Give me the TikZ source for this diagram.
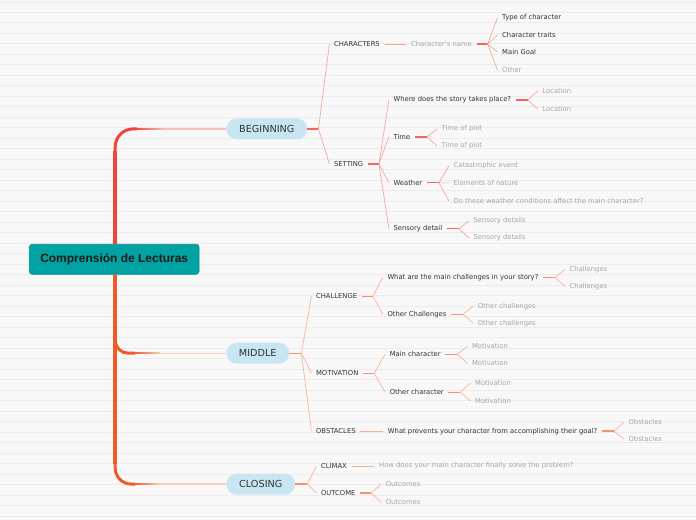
\documentclass[tikz,border=0pt]{standalone}
\usepackage{fontspec}
\setmainfont{DejaVu Sans}
\newfontfamily\titlefont{Liberation Sans}

\definecolor{bgpaper}{HTML}{F8F8F8}
\definecolor{paperrule}{HTML}{ECECEC}
\definecolor{rootteal}{HTML}{00A3A1}
\definecolor{rootedge}{HTML}{0A8C8A}
\definecolor{pillblue}{HTML}{C7E6F1}
\definecolor{trunkred}{HTML}{F0463A}
\definecolor{trunkorange}{HTML}{F05A28}
\definecolor{linkpink}{HTML}{F7C2BB}
\definecolor{linkpeach}{HTML}{F9CDB9}
\definecolor{fanpink}{HTML}{F5A39C}
\definecolor{fanpeach}{HTML}{F8B196}
\definecolor{stubpink}{HTML}{F0685B}
\definecolor{stubpeach}{HTML}{F5936D}
\definecolor{inkdark}{HTML}{333333}
\definecolor{inkgrey}{HTML}{A6A6A6}

\newcommand*{\leafsize}{\fontsize{6.8}{8}\selectfont}

\begin{document}
\begin{tikzpicture}
[
	x=1pt,y=-1pt,
	rootbox/.style={rectangle,rounded corners=3pt,draw=rootedge,fill=rootteal,line width=0.6pt,minimum width=170pt,minimum height=30pt,text=black!90,font=\titlefont\bfseries\fontsize{12}{14}\selectfont},
	pill/.style={rectangle,rounded corners=10.5pt,fill=pillblue,anchor=west,minimum height=21pt,inner sep=0pt,text=inkdark,font=\fontsize{9.7}{11}\selectfont},
	leaf/.style={anchor=west,inner xsep=4.5pt,inner ysep=1pt,text=inkdark,font=\leafsize},
	greyleaf/.style={leaf,text=inkgrey},
	trunk/.style={line width=4.2pt},
	curl/.style={line width=3pt},
	linkB/.style={draw=linkpink,line width=1.3pt},
	linkC/.style={draw=linkpeach,line width=1.3pt},
	fanB/.style={draw=fanpink,line width=0.65pt},
	fanC/.style={draw=fanpeach,line width=0.65pt},
	stubB/.style={draw=stubpink,line width=1.3pt},
	stubC/.style={draw=stubpeach,line width=1.3pt}
]

	% paper
	\fill[bgpaper] (0,0) rectangle (696,520);
	\foreach \k in {0,...,49}
		\draw[paperrule,line width=0.6pt] (0,{1.8+10.5*\k}) -- (696,{1.8+10.5*\k});
	\useasboundingbox (0,0) rectangle (696,520);

	% root and main topics
	\node[rootbox] (root) at (114,259.5) {Comprensión de Lecturas};
	\node[pill,minimum width=81pt] (beg) at (226,129) {BEGINNING};
	\node[pill,minimum width=63pt] (mid) at (226,353.5) {MIDDLE};
	\node[pill,minimum width=69pt] (clo) at (226,484.5) {CLOSING};

	% trunk
	\coordinate (tkbeg) at (115,129);
	\coordinate (tkmid) at (115,353.5);
	\coordinate (tkclo) at (115,484.5);
	\draw[trunk,trunkred] (root.north -| tkbeg) -- ([shift={(0,22)}]tkbeg);
	\draw[trunk,trunkorange] (root.south -| tkclo) -- ([shift={(0,-20)}]tkclo);
	\draw[curl,trunkred,rounded corners=18pt] ([shift={(0,24)}]tkbeg) |- ([xshift=22pt]tkbeg);
	\draw[curl,trunkorange,rounded corners=13pt] ([shift={(0,-16)}]tkmid) |- ([xshift=20pt]tkmid);
	\draw[curl,trunkorange,rounded corners=16pt] ([shift={(0,-21)}]tkclo) |- ([xshift=20pt]tkclo);

	\draw[linkB] ([xshift=21pt]tkbeg) -- (beg.west);
	\draw[linkC] ([xshift=19pt]tkmid) -- (mid.west);
	\draw[linkC] ([xshift=19pt]tkclo) -- (clo.west);
	\shade[left color=trunkred,right color=linkpink] ([shift={(20,-0.75)}]tkbeg) rectangle ([shift={(50,0.75)}]tkbeg);
	\shade[left color=trunkorange,right color=linkpeach] ([shift={(18,-0.75)}]tkmid) rectangle ([shift={(45,0.75)}]tkmid);
	\shade[left color=trunkorange,right color=linkpeach] ([shift={(18,-0.75)}]tkclo) rectangle ([shift={(45,0.75)}]tkclo);

	% BEGINNING
	\coordinate (begfan) at ([xshift=11pt]beg.east);
	\draw[stubB] (beg.east) -- (begfan);
	\node[leaf] (chars) at ([shift={(11,-85)}]begfan) {CHARACTERS};
	\node[leaf] (setting) at ([shift={(11,35)}]begfan) {SETTING};
	\draw[fanB] (begfan) -- (chars.west) (begfan) -- (setting.west);

	% characters
	\node[greyleaf] (charname) at ([xshift=22pt]chars.east) {Character's name};
	\draw[fanB] (chars.east) -- (charname.west);
	\coordinate (charfan) at ([xshift=11pt]charname.east);
	\draw[stubB] (charname.east) -- (charfan);
	\node[leaf] (typechar) at ([shift={(10,-26)}]charfan) {Type of character};
	\node[leaf] (traits) at ([shift={(10,-9)}]charfan) {Character traits};
	\node[leaf] (goal) at ([shift={(10,8)}]charfan) {Main Goal};
	\node[greyleaf] (other) at ([shift={(10,26)}]charfan) {Other};
	\draw[fanB] (charfan) -- (typechar.west) (charfan) -- (traits.west)
		(charfan) -- (goal.west) (charfan) -- (other.west);

	% setting
	\coordinate (setfan) at ([xshift=11pt]setting.east);
	\draw[stubB] (setting.east) -- (setfan);
	\node[leaf] (where) at ([shift={(10,-64)}]setfan) {Where does the story takes place?};
	\node[leaf] (time) at ([shift={(10,-27)}]setfan) {Time};
	\node[leaf] (weather) at ([shift={(10,19)}]setfan) {Weather};
	\node[leaf] (sensory) at ([shift={(10,65)}]setfan) {Sensory detail};
	\draw[fanB] (setfan) -- (where.west) (setfan) -- (time.west)
		(setfan) -- (weather.west) (setfan) -- (sensory.west);

	\coordinate (wherefan) at ([xshift=12pt]where.east);
	\draw[stubB] (where.east) -- (wherefan);
	\node[greyleaf] (loca) at ([shift={(10,-9)}]wherefan) {Location};
	\node[greyleaf] (locb) at ([shift={(10,9)}]wherefan) {Location};
	\draw[fanB] (wherefan) -- (loca.west) (wherefan) -- (locb.west);

	\coordinate (timefan) at ([xshift=12pt]time.east);
	\draw[stubB] (time.east) -- (timefan);
	\node[greyleaf] (plota) at ([shift={(10,-8)}]timefan) {Time of plot};
	\node[greyleaf] (plotb) at ([shift={(10,9)}]timefan) {Time of plot};
	\draw[fanB] (timefan) -- (plota.west) (timefan) -- (plotb.west);

	\coordinate (weathfan) at ([xshift=12pt]weather.east);
	\draw[stubB] (weather.east) -- (weathfan);
	\node[greyleaf] (catast) at ([shift={(10,-17)}]weathfan) {Catastrophic event};
	\node[greyleaf] (nature) at ([shift={(10,0)}]weathfan) {Elements of nature};
	\node[greyleaf] (affect) at ([shift={(10,18)}]weathfan) {Do these weather conditions affect the main character?};
	\draw[fanB] (weathfan) -- (catast.west) (weathfan) -- (nature.west) (weathfan) -- (affect.west);

	\coordinate (sensfan) at ([xshift=12pt]sensory.east);
	\draw[stubB] (sensory.east) -- (sensfan);
	\node[greyleaf] (sensa) at ([shift={(10,-8)}]sensfan) {Sensory details};
	\node[greyleaf] (sensb) at ([shift={(10,9)}]sensfan) {Sensory details};
	\draw[fanB] (sensfan) -- (sensa.west) (sensfan) -- (sensb.west);

	% MIDDLE
	\coordinate (midfan) at ([xshift=12pt]mid.east);
	\draw[stubC] (mid.east) -- (midfan);
	\node[leaf] (chall) at ([shift={(10,-57)}]midfan) {CHALLENGE};
	\node[leaf] (motiv) at ([shift={(10,20)}]midfan) {MOTIVATION};
	\node[leaf] (obst) at ([shift={(10,78)}]midfan) {OBSTACLES};
	\draw[fanC] (midfan) -- (chall.west) (midfan) -- (motiv.west) (midfan) -- (obst.west);

	% challenge
	\coordinate (chalfan) at ([xshift=11pt]chall.east);
	\draw[stubC] (chall.east) -- (chalfan);
	\node[leaf] (mainchal) at ([shift={(10,-19)}]chalfan) {What are the main challenges in your story?};
	\node[leaf] (othchal) at ([shift={(10,18)}]chalfan) {Other Challenges};
	\draw[fanC] (chalfan) -- (mainchal.west) (chalfan) -- (othchal.west);

	\coordinate (mainchalfan) at ([xshift=12pt]mainchal.east);
	\draw[stubC] (mainchal.east) -- (mainchalfan);
	\node[greyleaf] (chala) at ([shift={(10,-8)}]mainchalfan) {Challenges};
	\node[greyleaf] (chalb) at ([shift={(10,9)}]mainchalfan) {Challenges};
	\draw[fanC] (mainchalfan) -- (chala.west) (mainchalfan) -- (chalb.west);

	\coordinate (othchalfan) at ([xshift=12pt]othchal.east);
	\draw[stubC] (othchal.east) -- (othchalfan);
	\node[greyleaf] (otha) at ([shift={(10,-8)}]othchalfan) {Other challenges};
	\node[greyleaf] (othb) at ([shift={(10,9)}]othchalfan) {Other challenges};
	\draw[fanC] (othchalfan) -- (otha.west) (othchalfan) -- (othb.west);

	% motivation
	\coordinate (motfan) at ([xshift=11pt]motiv.east);
	\draw[stubC] (motiv.east) -- (motfan);
	\node[leaf] (mainchar) at ([shift={(11,-19)}]motfan) {Main character};
	\node[leaf] (othchar) at ([shift={(11,19)}]motfan) {Other character};
	\draw[fanC] (motfan) -- (mainchar.west) (motfan) -- (othchar.west);

	\coordinate (maincharfan) at ([xshift=12pt]mainchar.east);
	\draw[stubC] (mainchar.east) -- (maincharfan);
	\node[greyleaf] (mota) at ([shift={(10,-8)}]maincharfan) {Motivation};
	\node[greyleaf] (motb) at ([shift={(10,9)}]maincharfan) {Motivation};
	\draw[fanC] (maincharfan) -- (mota.west) (maincharfan) -- (motb.west);

	\coordinate (othcharfan) at ([xshift=12pt]othchar.east);
	\draw[stubC] (othchar.east) -- (othcharfan);
	\node[greyleaf] (motc) at ([shift={(10,-9)}]othcharfan) {Motivation};
	\node[greyleaf] (motd) at ([shift={(10,9)}]othcharfan) {Motivation};
	\draw[fanC] (othcharfan) -- (motc.west) (othcharfan) -- (motd.west);

	% obstacles
	\node[leaf] (prevent) at ([xshift=23pt]obst.east) {What prevents your character from accomplishing their goal?};
	\draw[fanC] (obst.east) -- (prevent.west);
	\coordinate (prevfan) at ([xshift=12pt]prevent.east);
	\draw[stubC] (prevent.east) -- (prevfan);
	\node[greyleaf] (obsta) at ([shift={(10,-9)}]prevfan) {Obstacles};
	\node[greyleaf] (obstb) at ([shift={(10,8)}]prevfan) {Obstacles};
	\draw[fanC] (prevfan) -- (obsta.west) (prevfan) -- (obstb.west);

	% CLOSING
	\coordinate (clofan) at ([xshift=12pt]clo.east);
	\draw[stubC] (clo.east) -- (clofan);
	\node[leaf] (climax) at ([shift={(9,-18)}]clofan) {CLIMAX};
	\node[leaf] (outcome) at ([shift={(9,9)}]clofan) {OUTCOME};
	\draw[fanC] (clofan) -- (climax.west) (clofan) -- (outcome.west);

	\node[greyleaf] (solve) at ([xshift=23pt]climax.east) {How does your main character finally solve the problem?};
	\draw[fanC] (climax.east) -- (solve.west);

	\coordinate (outfan) at ([xshift=11pt]outcome.east);
	\draw[stubC] (outcome.east) -- (outfan);
	\node[greyleaf] (outa) at ([shift={(10,-9)}]outfan) {Outcomes};
	\node[greyleaf] (outb) at ([shift={(10,9)}]outfan) {Outcomes};
	\draw[fanC] (outfan) -- (outa.west) (outfan) -- (outb.west);

\end{tikzpicture}
\end{document}
